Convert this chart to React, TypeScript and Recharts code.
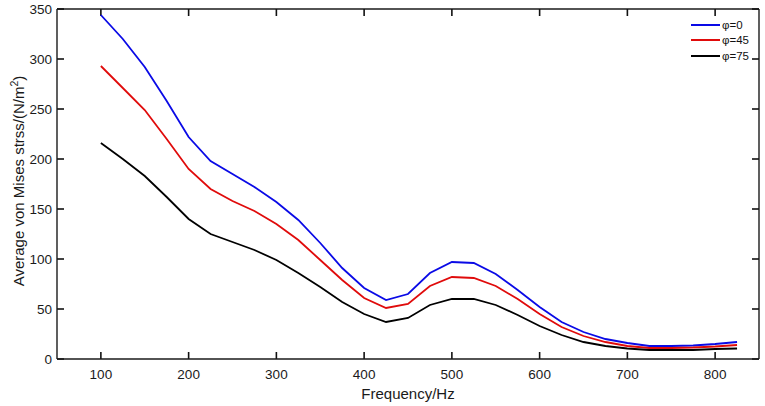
import { LineChart, Line, XAxis, YAxis, ReferenceLine } from 'recharts';

const freq = [100, 125, 150, 175, 200, 225, 250, 275, 300, 325, 350, 375, 400, 425, 450, 475, 500, 525, 550, 575, 600, 625, 650, 675, 700, 725, 750, 775, 800, 825];
const phi0 = [344, 320, 292, 258, 222, 198, 185, 172, 157, 139, 116, 91, 71, 59, 65, 86, 97, 96, 85, 69, 52, 37, 27, 20, 16, 13, 13, 13.5, 15, 17];
const phi45 = [293, 271, 249, 220, 190, 170, 158, 148, 135, 119, 99, 79, 61, 51, 55, 73, 82, 81, 73, 60, 45, 32, 23, 17, 13, 11, 11, 11.5, 12.5, 14];
const phi75 = [216, 200, 183, 162, 140, 125, 117, 109, 99, 86, 72, 57, 45, 37, 41, 54, 60, 60, 54, 44, 33, 24, 17, 13, 10.5, 9, 9, 9, 10, 10.5];

const xTicks = [100, 200, 300, 400, 500, 600, 700, 800];
const yTicks = [0, 50, 100, 150, 200, 250, 300, 350];
const X_DOMAIN = [50, 850];
const Y_DOMAIN = [0, 350];

const series = [
  { key: 'phi0', name: 'φ=0', color: '#0a0ae6' },
  { key: 'phi45', name: 'φ=45', color: '#e00b0b' },
  { key: 'phi75', name: 'φ=75', color: '#000000' },
];

const data = freq.map((f, i) => ({ f, phi0: phi0[i], phi45: phi45[i], phi75: phi75[i] }));

const FONT = '"Liberation Sans", Arial, sans-serif';
const INK = '#1a1a1a';
const AXIS = { stroke: INK, strokeWidth: 1.4 };
const TICK = { stroke: '#111', strokeWidth: 1.6 };
// inward tick length, in data units (1 y unit ~ 1px, 1 x unit ~ 0.88px)
const TICK_Y = 7;
const TICK_X = 8;

const BottomTick = ({ x, y, payload }: any) => (
  <text x={x} y={y + 20} textAnchor="middle" fontSize={13.5} fontFamily={FONT} fill={INK}>
    {payload.value}
  </text>
);

const LeftTick = ({ x, y, payload }: any) => (
  <text x={x - 5} y={y + 5} textAnchor="end" fontSize={13.5} fontFamily={FONT} fill={INK}>
    {payload.value}
  </text>
);

const YTitle = () => (
  <text transform="translate(24,181) rotate(-90)" textAnchor="middle" fontSize={15} fontFamily={FONT} fill={INK}>
    Average von Mises strss/(N/m
    <tspan fontSize={10.5} dy={-6}>2</tspan>
    <tspan dy={6}>)</tspan>
  </text>
);

const LegendBox = () => (
  <div style={{ position: 'absolute', left: 691, top: 17, fontFamily: FONT, fontSize: 11.5, color: '#111' }}>
    {series.map((s) => (
      <div key={s.key} style={{ display: 'flex', alignItems: 'center', height: 15.5 }}>
        <div style={{ width: 29, height: 2, background: s.color, marginRight: 2 }} />
        <span>{s.name}</span>
      </div>
    ))}
  </div>
);

export default function App() {
  const [x0, x1] = X_DOMAIN;
  const [y0, y1] = Y_DOMAIN;
  return (
    <div style={{ position: 'absolute', left: 0, top: 0, width: 765, height: 406, background: '#fff' }}>
      <LineChart width={765} height={406} data={data} margin={{ top: 9, right: 6, left: 0, bottom: 0 }}>
        <XAxis
          dataKey="f"
          type="number"
          domain={X_DOMAIN}
          ticks={xTicks}
          tickSize={0}
          tickMargin={0}
          tickLine={false}
          tick={<BottomTick />}
          height={47}
          axisLine={AXIS}
          label={{ value: 'Frequency/Hz', position: 'insideBottom', offset: 7, fontSize: 15, fontFamily: FONT, fill: INK }}
        />
        <YAxis
          type="number"
          domain={Y_DOMAIN}
          ticks={yTicks}
          tickSize={0}
          tickMargin={0}
          tickLine={false}
          tick={<LeftTick />}
          width={57}
          axisLine={AXIS}
          label={{ content: () => <YTitle /> }}
        />
        {/* box: top and right borders */}
        <ReferenceLine y={y1} {...AXIS} />
        <ReferenceLine x={x1} {...AXIS} />
        {/* inward ticks on all four sides */}
        {xTicks.map((t) => (
          <ReferenceLine key={`b${t}`} segment={[{ x: t, y: y0 }, { x: t, y: y0 + TICK_Y }]} {...TICK} />
        ))}
        {xTicks.map((t) => (
          <ReferenceLine key={`t${t}`} segment={[{ x: t, y: y1 - TICK_Y }, { x: t, y: y1 }]} {...TICK} />
        ))}
        {yTicks.map((t) => (
          <ReferenceLine key={`l${t}`} segment={[{ x: x0, y: t }, { x: x0 + TICK_X, y: t }]} {...TICK} />
        ))}
        {yTicks.map((t) => (
          <ReferenceLine key={`r${t}`} segment={[{ x: x1 - TICK_X, y: t }, { x: x1, y: t }]} {...TICK} />
        ))}
        {series.map((s) => (
          <Line
            key={s.key}
            dataKey={s.key}
            name={s.name}
            type="linear"
            stroke={s.color}
            strokeWidth={1.8}
            dot={false}
            isAnimationActive={false}
          />
        ))}
      </LineChart>
      <LegendBox />
    </div>
  );
}
